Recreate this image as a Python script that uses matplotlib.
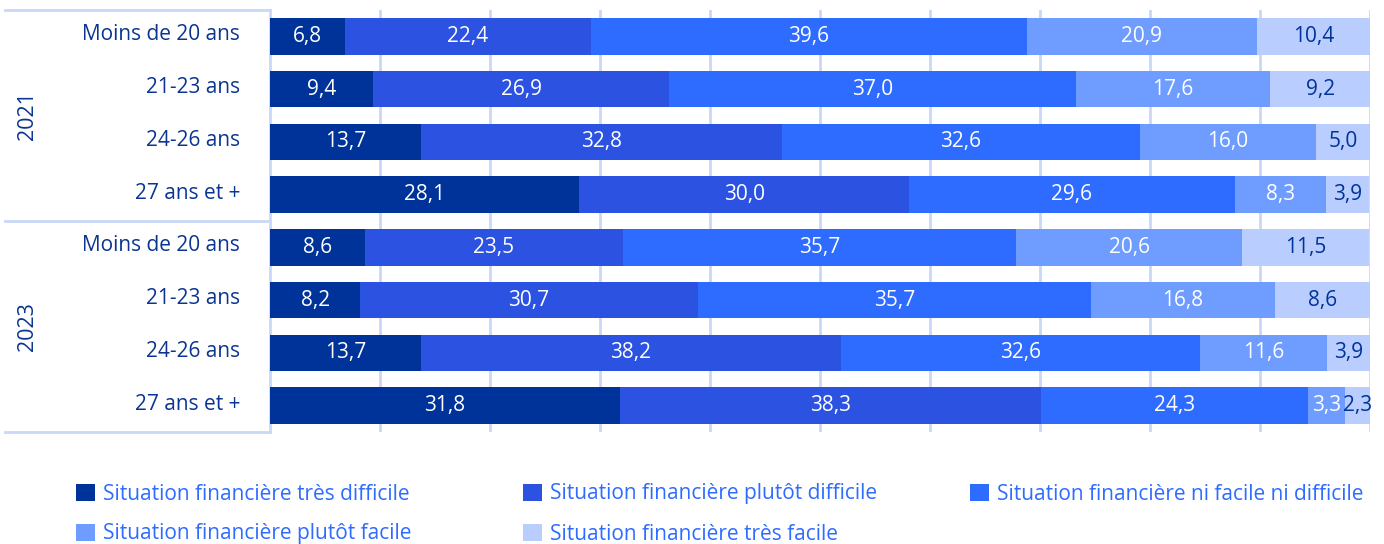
import numpy as np
import matplotlib.pyplot as plt
from matplotlib.patches import Patch

plt.rcParams["font.family"] = ["Open Sans", "DejaVu Sans"]

years = ["2021", "2023"]
ages = ["Moins de 20 ans", "21-23 ans", "24-26 ans", "27 ans et +"]
series = [
    "Situation financière très difficile",
    "Situation financière plutôt difficile",
    "Situation financière ni facile ni difficile",
    "Situation financière plutôt facile",
    "Situation financière très facile",
]
tres_difficile = [6.8, 9.4, 13.7, 28.1, 8.6, 8.2, 13.7, 31.8]
plutot_difficile = [22.4, 26.9, 32.8, 30.0, 23.5, 30.7, 38.2, 38.3]
ni_ni = [39.6, 37.0, 32.6, 29.6, 35.7, 35.7, 32.6, 24.3]
plutot_facile = [20.9, 17.6, 16.0, 8.3, 20.6, 16.8, 11.6, 3.3]
tres_facile = [10.4, 9.2, 5.0, 3.9, 11.5, 8.6, 3.9, 2.3]

values = [tres_difficile, plutot_difficile, ni_ni, plutot_facile, tres_facile]
colors = ["#00339A", "#2C52E2", "#2E6BFF", "#6E9CFF", "#B9CDFF"]
text_colors = ["white", "white", "white", "white", "#00339A"]
grid_color = "#CAD8F7"
dark_blue = "#0A3592"

fig = plt.figure(figsize=(13.84, 5.44), dpi=100)
ax = fig.add_axes([270 / 1384, 1 - 432 / 544, 1100 / 1384, 422 / 544])

y = np.arange(len(tres_difficile))
left = np.zeros(len(y))
for vals, col, tcol in zip(values, colors, text_colors):
    vals = np.array(vals)
    ax.barh(y, vals, left=left, height=0.69, color=col, zorder=3)
    for x0, v, yy in zip(left, vals, y):
        ax.text(x0 + v / 2, yy, f"{v:.1f}".replace(".", ","), ha="center",
                va="center", color=tcol, fontsize=15, zorder=4)
    left += vals

ax.set_xlim(0, 100)
ax.set_ylim(len(y) - 0.5, -0.5)
ax.set_xticks(np.arange(10, 101, 10))
ax.xaxis.grid(True, color=grid_color, linewidth=2, zorder=0)
ax.tick_params(length=0, labelbottom=False, labelleft=False)
for s in ax.spines.values():
    s.set_visible(False)

# category labels and year panel
for i, lab in enumerate(ages * 2):
    ax.text(-2.7, i - 0.03, lab, ha="right", va="center", color=dark_blue,
            fontsize=15, clip_on=False)
for j, yr in enumerate(years):
    ax.text(-22.0, j * 4 + 1.5, yr, ha="center", va="center", rotation=90,
            color=dark_blue, fontsize=15.5, clip_on=False)

x_left = (5 - 270) / 1100 * 100
for yy in [-0.5, 3.5, 7.5]:
    ax.plot([x_left, 0], [yy, yy], color=grid_color, linewidth=2, clip_on=False)
ax.plot([0, 0], [-0.5, 7.5], color=grid_color, linewidth=2, clip_on=False)

# legend laid out on a regular grid
handles = [Patch(facecolor=c) for c in colors]
positions = [(76, 494), (523, 494), (970, 494), (76, 534), (523, 534)]
for h, lab, (px, py) in zip(handles, series, positions):
    leg = fig.legend([h], [lab], loc="center left",
                     bbox_to_anchor=(px / 1384, 1 - py / 544), frameon=False,
                     fontsize=15, handlelength=0.9, handleheight=0.9,
                     handletextpad=0.4, borderpad=0, borderaxespad=0)
    for t in leg.get_texts():
        t.set_color("#2E6BFF")

fig.savefig("out.png", dpi=100)
